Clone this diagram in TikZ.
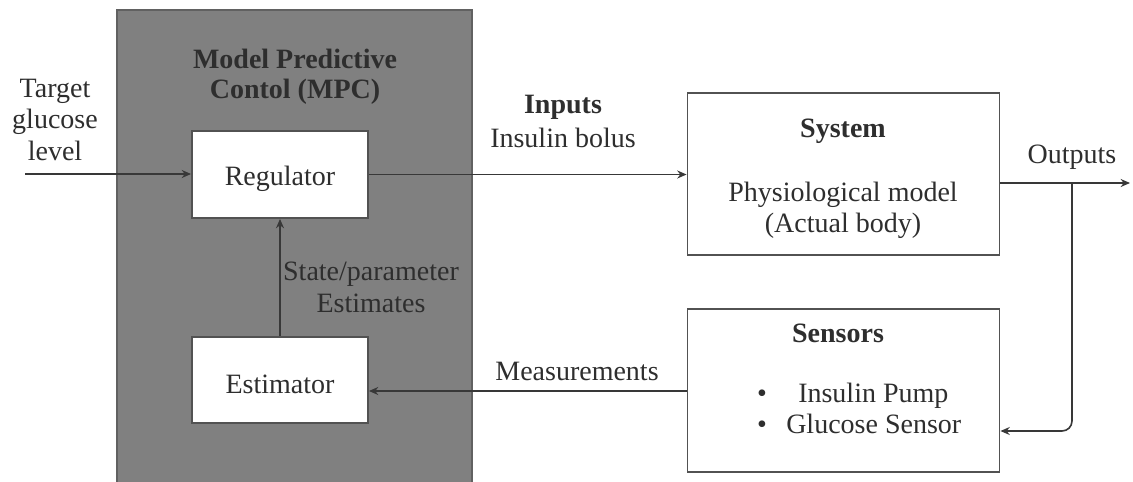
\documentclass[tikz,border=0pt]{standalone}
\usepackage{fontspec}
\setmainfont{Liberation Serif}
\usetikzlibrary{arrows.meta}
\begin{document}
\begin{tikzpicture}[x=0.75pt,y=-0.75pt,
  txt/.style={font=\fontsize{21}{24}\selectfont, text=black!82, inner sep=0pt, anchor=base},
  btxt/.style={txt, font=\fontsize{21}{24}\selectfont\bfseries},
  blockbox/.style={draw=black!68, line width=1.4pt, fill=white, inner sep=0pt},
  conn/.style={draw=black!78, line width=1.2pt, -{Stealth[length=7pt,width=6pt]}},
]
\useasboundingbox (0,0) rectangle (1133,482);
\fill[white] (0,0) rectangle (1133,482);

% MPC panel
\draw[fill=black!50, draw=black!62, line width=1pt] (117,10) rectangle (472,486);

% blocks
\node[blockbox, minimum width=132pt, minimum height=65.25pt] (reg) at (280,174.5) {};
\node[blockbox, minimum width=132pt, minimum height=64.5pt] (est) at (280,380) {};
\node[blockbox, minimum width=234pt, minimum height=121.5pt] (sys) at (843.5,174) {};
\node[blockbox, minimum width=234pt, minimum height=122.25pt] (sens) at (843.5,390.5) {};

% free ends and routing points
\coordinate (tgt) at (25,174);
\coordinate (outend) at (1130,183);
\coordinate (branch) at (1072,183);
\coordinate (fbrow) at (0,431);
\coordinate (measrow) at (0,391);

% connectors
\draw[conn] (tgt) -- (reg.west |- tgt);
\draw[conn] (reg.east) -- (reg.east -| sys.west);
\draw[conn] (sys.east |- outend) -- (outend);
\draw[conn, rounded corners=7.5pt] (branch) |- (sens.east |- fbrow);
\draw[conn] (sens.west |- measrow) -- (est.east |- measrow);
\draw[conn] (est.north) -- (reg.south);

% labels
\node[txt] (t1) at (55,97) {Target};
\node[txt] (t2) at (55,128.5) {glucose};
\node[txt] (t3) at (55,160) {level};

\node[btxt] (m1) at (295,68) {Model Predictive};
\node[btxt] (m2) at (295,98) {Contol (MPC)};

\node[txt] (regl) at (280,185) {Regulator};
\node[txt] (estl) at (280,393) {Estimator};

\node[txt] (s1) at (371,280) {State/parameter};
\node[txt] (s2) at (371,312) {Estimates};

\node[btxt] (in1) at (563,113) {Inputs};
\node[txt] (in2) at (563,147) {Insulin bolus};

\node[btxt] (sy1) at (843,137) {System};
\node[txt] (sy2) at (843,201) {Physiological model};
\node[txt] (sy3) at (843,232) {(Actual body)};

\node[txt] (outl) at (1072,163) {Outputs};
\node[txt] (meas) at (577,380) {Measurements};

\node[btxt] (se1) at (838,342) {Sensors};
\node[txt] (b1) at (762,402) {\textbullet};
\node[txt] (b2) at (762,433) {\textbullet};
\node[txt, anchor=base west] (se2) at (798,402) {Insulin Pump};
\node[txt, anchor=base west] (se3) at (786,433) {Glucose Sensor};
\end{tikzpicture}
\end{document}
